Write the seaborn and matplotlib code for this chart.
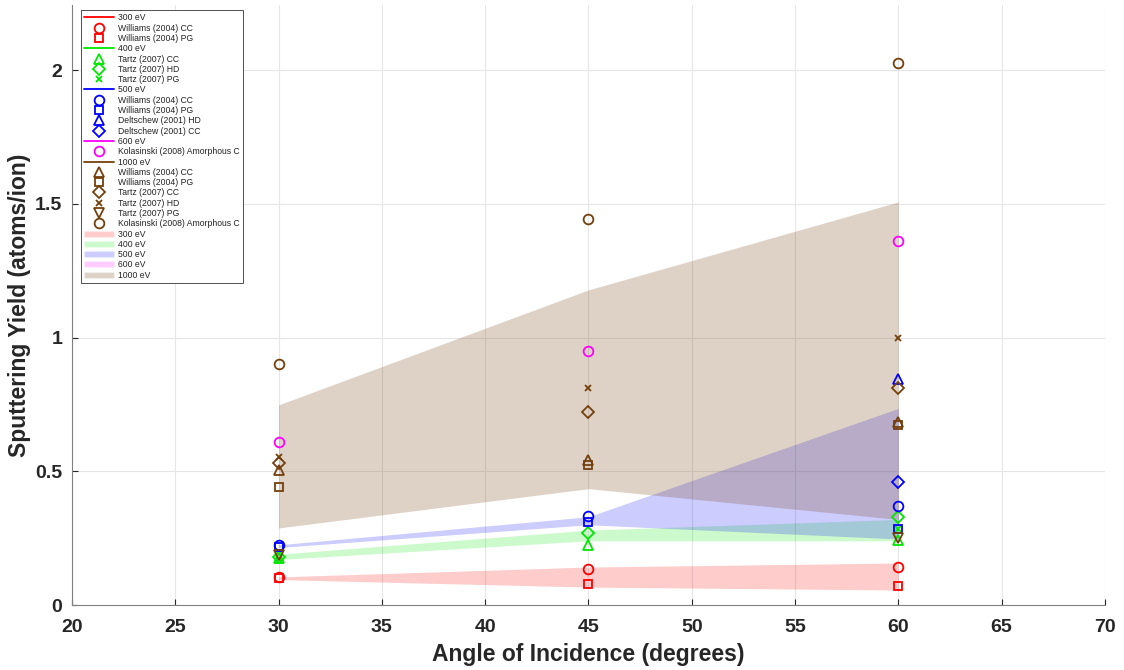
import numpy as np
import pandas as pd
import matplotlib
matplotlib.use("Agg")
import matplotlib.pyplot as plt
import seaborn as sns
from matplotlib.lines import Line2D
from matplotlib.patches import Patch

# ---------------- data ----------------
angles = [30, 45, 60]

# 300 eV
w300_cc = [0.105, 0.135, 0.142]
w300_pg = [0.100, 0.078, 0.071]
band300_lo = [0.095, 0.067, 0.056]
band300_hi = [0.105, 0.142, 0.157]

# 400 eV
t400_cc = [0.176, 0.224, 0.243]
t400_hd = [0.180, 0.270, 0.330]
t400_pg = [0.172, np.nan, 0.285]
band400_lo = [0.170, 0.240, 0.240]
band400_hi = [0.190, 0.280, 0.320]

# 500 eV
w500_cc = [0.224, 0.333, 0.370]
w500_pg = [0.217, 0.310, 0.284]
d500_hd = [np.nan, np.nan, 0.845]
d500_cc = [np.nan, np.nan, 0.460]
band500_lo = [0.215, 0.300, 0.247]
band500_hi = [0.225, 0.330, 0.735]

# 600 eV
k600_am = [0.610, 0.950, 1.360]

# 1000 eV
w1000_cc = [0.505, 0.542, 0.685]
w1000_pg = [0.440, 0.523, 0.673]
t1000_cc = [0.530, 0.720, 0.810]
t1000_hd = [0.553, 0.811, 1.000]
t1000_pg = [0.187, np.nan, 0.250]
k1000_am = [0.900, 1.443, 2.026]
band1000_lo = [0.288, 0.435, 0.320]
band1000_hi = [0.748, 1.178, 1.507]

# ---------------- style ----------------
RED = (1.0, 0.0, 0.0)
GREEN = (0.0, 0.9, 0.0)
BLUE = (0.0, 0.0, 1.0)
MAG = (1.0, 0.0, 1.0)
BROWN = (0.45, 0.25, 0.05)

sns.set_theme(style="whitegrid")
plt.rcParams["font.family"] = ["Liberation Sans", "DejaVu Sans"]

fig = plt.figure(figsize=(11.24, 6.7), dpi=100)
ax = fig.add_axes([0.064, 0.097, 0.919, 0.8955])

# bands
bands = [
    (band300_lo, band300_hi, RED, 0.2),
    (band400_lo, band400_hi, GREEN, 0.2),
    (band500_lo, band500_hi, BLUE, 0.2),
    (band1000_lo, band1000_hi, BROWN, 0.23),
]
for lo, hi, c, a in bands:
    ax.fill_between(angles, lo, hi, color=c, alpha=a, linewidth=0, zorder=1)

series = [
    (w300_cc, "o", RED), (w300_pg, "s", RED),
    (t400_cc, "^", GREEN), (t400_hd, "D", GREEN), (t400_pg, "x", GREEN),
    (w500_cc, "o", BLUE), (w500_pg, "s", BLUE), (d500_hd, "^", BLUE), (d500_cc, "D", BLUE),
    (k600_am, "o", MAG),
    (w1000_cc, "^", BROWN), (w1000_pg, "s", BROWN), (t1000_cc, "D", BROWN),
    (t1000_hd, "x", BROWN), (t1000_pg, "v", BROWN), (k1000_am, "o", BROWN),
]
sizes = {"o": 7, "s": 6, "^": 7, "v": 7, "D": 6, "x": 5}
for vals, m, c in series:
    df = pd.DataFrame({"angle": angles, "y": vals}).dropna()
    sns.lineplot(data=df, x="angle", y="y", ax=ax, linestyle="", marker=m,
                 markersize=sizes[m], markerfacecolor="none", markeredgecolor=c,
                 markeredgewidth=1.3, color=c, zorder=3)

ax.set_xlim(20, 70)
ax.set_ylim(0, 2.243)
ax.set_xticks(np.arange(20, 71, 5))
ax.set_yticks([0, 0.5, 1, 1.5, 2])
ax.set_yticklabels(["0", "0.5", "1", "1.5", "2"])
ax.set_xlabel("Angle of Incidence (degrees)", fontsize=16.5, fontweight="bold",
              color="#262626", labelpad=5)
ax.set_ylabel("Sputtering Yield (atoms/ion)", fontsize=16.5, fontweight="bold",
              color="#262626")
ax.yaxis.set_label_coords(-0.04, 0.5)
ax.tick_params(axis="both", labelsize=14, colors="#262626", direction="in",
               length=4, width=0.8, bottom=True, left=True)
ax.tick_params(axis="x", pad=10)
ax.tick_params(axis="y", pad=7)
for lab in ax.get_xticklabels() + ax.get_yticklabels():
    lab.set_fontweight("bold")
ax.grid(True, color="#e6e6e6", linewidth=0.8)
ax.set_facecolor("white")
for s in ["top", "right"]:
    ax.spines[s].set_visible(False)
for s in ["left", "bottom"]:
    ax.spines[s].set_color("#808080")
    ax.spines[s].set_linewidth(0.8)

def mk(m, c, label):
    return Line2D([], [], linestyle="", marker=m, markersize=sizes[m],
                  markerfacecolor="none", markeredgecolor=c, markeredgewidth=1.3,
                  label=label)

def ln(c, label):
    return Line2D([], [], color=c, linewidth=1.3, label=label)

handles = [
    ln(RED, "300 eV"), mk("o", RED, "Williams (2004) CC"), mk("s", RED, "Williams (2004) PG"),
    ln(GREEN, "400 eV"), mk("^", GREEN, "Tartz (2007) CC"), mk("D", GREEN, "Tartz (2007) HD"),
    mk("x", GREEN, "Tartz (2007) PG"),
    ln(BLUE, "500 eV"), mk("o", BLUE, "Williams (2004) CC"), mk("s", BLUE, "Williams (2004) PG"),
    mk("^", BLUE, "Deltschew (2001) HD"), mk("D", BLUE, "Deltschew (2001) CC"),
    ln(MAG, "600 eV"), mk("o", MAG, "Kolasinski (2008) Amorphous C"),
    ln(BROWN, "1000 eV"), mk("^", BROWN, "Williams (2004) CC"), mk("s", BROWN, "Williams (2004) PG"),
    mk("D", BROWN, "Tartz (2007) CC"), mk("x", BROWN, "Tartz (2007) HD"),
    mk("v", BROWN, "Tartz (2007) PG"), mk("o", BROWN, "Kolasinski (2008) Amorphous C"),
    Patch(facecolor=RED, alpha=0.2, label="300 eV"),
    Patch(facecolor=GREEN, alpha=0.2, label="400 eV"),
    Patch(facecolor=BLUE, alpha=0.2, label="500 eV"),
    Patch(facecolor=MAG, alpha=0.2, label="600 eV"),
    Patch(facecolor=BROWN, alpha=0.23, label="1000 eV"),
]
leg = ax.legend(handles=handles, loc="upper left", bbox_to_anchor=(0.009, 0.991),
                fontsize=6.2, frameon=True, fancybox=False, edgecolor="#333333",
                framealpha=1, handlelength=3.5, handleheight=0.7, labelspacing=0.15,
                borderpad=0.35, handletextpad=0.45, borderaxespad=0)
leg.get_frame().set_linewidth(0.6)
for t in leg.get_texts():
    t.set_color("#222222")

fig.savefig("out.png", dpi=100, facecolor="white")
